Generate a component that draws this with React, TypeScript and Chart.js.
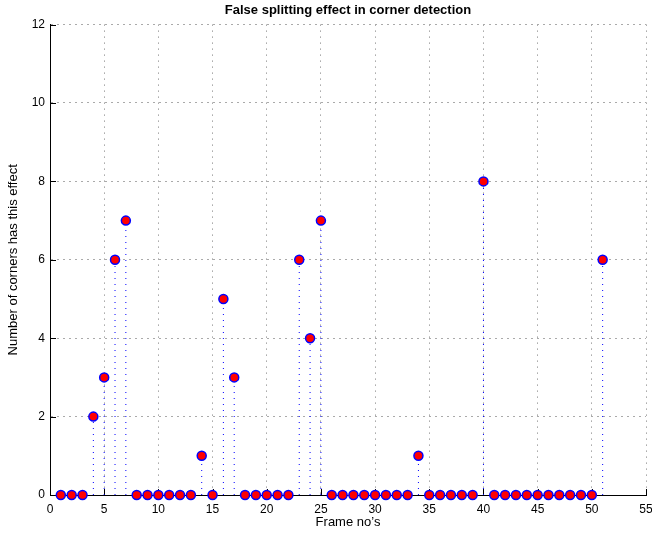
import React, { useEffect, useRef } from "react";
import { Chart, registerables } from "chart.js";

Chart.register(...registerables);

const frames: number[] = [
  1, 2, 3, 4, 5, 6, 7, 8, 9, 10, 11, 12, 13, 14, 15, 16, 17, 18, 19, 20, 21, 22, 23, 24, 25, 26,
  27, 28, 29, 30, 31, 32, 33, 34, 35, 36, 37, 38, 39, 40, 41, 42, 43, 44, 45, 46, 47, 48, 49, 50, 51,
];
const corners: number[] = [
  0, 0, 0, 2, 3, 6, 7, 0, 0, 0, 0, 0, 0, 1, 0, 5, 3, 0, 0, 0, 0, 0, 6, 4, 7, 0,
  0, 0, 0, 0, 0, 0, 0, 1, 0, 0, 0, 0, 0, 8, 0, 0, 0, 0, 0, 0, 0, 0, 0, 0, 6,
];
const xTicks = { min: 0, max: 55, step: 5 };
const yTicks = { min: 0, max: 12, step: 2 };
const titleText = "False splitting effect in corner detection";
const xLabel = "Frame no\u2019s";
const yLabel = "Number of corners has this effect";

const FONT = "'Liberation Sans', Arial, Helvetica, sans-serif";

const inwardTicks = {
  id: "inwardTicks",
  beforeDatasetsDraw(chart: any) {
    const { ctx, chartArea, scales } = chart;
    ctx.save();
    ctx.strokeStyle = "#000";
    ctx.lineWidth = 1;
    ctx.beginPath();
    scales.x.ticks.forEach((t: any) => {
      const px = Math.round(scales.x.getPixelForValue(t.value)) + 0.5;
      ctx.moveTo(px, chartArea.bottom);
      ctx.lineTo(px, chartArea.bottom - 6);
    });
    scales.y.ticks.forEach((t: any) => {
      const py = Math.round(scales.y.getPixelForValue(t.value)) + 0.5;
      ctx.moveTo(chartArea.left, py);
      ctx.lineTo(chartArea.left + 6, py);
    });
    ctx.stroke();
    ctx.restore();
  },
};

export default function App() {
  const ref = useRef<HTMLCanvasElement>(null);
  useEffect(() => {
    if (!ref.current) return;
    const points = frames.map((x, i) => ({ x, y: corners[i] }));
    const stems: any[] = [];
    frames.forEach((x, i) => {
      stems.push({ x, y: 0 }, { x, y: corners[i] }, { x, y: null });
    });
    const chart = new Chart(ref.current, {
      type: "scatter",
      data: {
        datasets: [
          {
            data: points,
            pointRadius: 4.5,
            pointBorderWidth: 1.5,
            pointBackgroundColor: "#ff0000",
            pointBorderColor: "#0000ff",
            showLine: false,
            clip: false as any,
            order: 0,
          },
          {
            data: stems,
            showLine: true,
            spanGaps: false,
            borderColor: "#0000ff",
            borderWidth: 1,
            borderDash: [1, 5],
            pointRadius: 0,
            clip: false as any,
            order: 1,
          },
        ],
      },
      plugins: [inwardTicks],
      options: {
        animation: false,
        responsive: false,
        maintainAspectRatio: false,
        layout: { padding: { top: 0, right: 0, bottom: 0, left: 0 } },
        plugins: {
          legend: { display: false },
          tooltip: { enabled: false },
          title: {
            display: true,
            text: titleText,
            fullSize: false,
            color: "#000",
            font: { family: FONT, size: 13, weight: "bold" },
            padding: { top: 3, bottom: 6 },
          },
        },
        scales: {
          x: {
            type: "linear",
            min: xTicks.min,
            max: xTicks.max,
            afterFit: (s: any) => {
              s.height = 38;
              s.paddingLeft = 0;
              s.paddingRight = 6;
            },
            ticks: {
              stepSize: xTicks.step,
              color: "#000",
              padding: 7,
              font: { family: FONT, size: 12 },
              maxRotation: 0,
            },
            grid: {
              drawTicks: false,
              color: "#777",
              lineWidth: 1,
            },
            border: { display: true, color: "#000", width: 1, dash: [1, 5] as any },
            title: {
              display: true,
              text: xLabel,
              color: "#000",
              font: { family: FONT, size: 13 },
              padding: { top: 0, bottom: 3 },
            },
          },
          y: {
            type: "linear",
            min: yTicks.min,
            max: yTicks.max,
            afterFit: (s: any) => {
              s.width = 50;
            },
            ticks: {
              stepSize: yTicks.step,
              color: "#000",
              padding: 5,
              font: { family: FONT, size: 12 },
            },
            grid: {
              drawTicks: false,
              color: "#aaa",
              lineWidth: 1,
            },
            border: { display: true, color: "#000", width: 1, dash: [2, 4] as any },
            title: {
              display: true,
              text: yLabel,
              color: "#000",
              font: { family: FONT, size: 13 },
              padding: { top: 6, bottom: 0 },
            },
          },
        },
      },
    });
    return () => chart.destroy();
  }, []);
  return (
    <div style={{ position: "absolute", left: 0, top: 0, width: 652, height: 533, background: "#fff" }}>
      <canvas ref={ref} width={652} height={533} style={{ display: "block" }} />
    </div>
  );
}
